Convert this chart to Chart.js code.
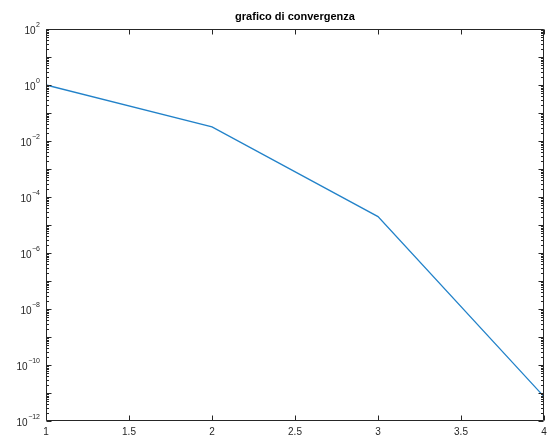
<!DOCTYPE html>
<html>
<head>
<meta charset="utf-8">
<script src="https://cdn.jsdelivr.net/npm/chart.js@4/dist/chart.umd.min.js"></script>
<style>
  html, body { margin: 0; padding: 0; background: #ffffff; }
  #wrap { width: 548px; height: 440px; }
</style>
</head>
<body>
<div id="wrap"><canvas id="c" width="548" height="440"></canvas></div>
<script>
// Iteration number and error at each step
const iterations = [1, 2, 3, 4];
const errors = [1.0, 0.032, 2.0e-5, 7.4e-12];

// Axis ticks
const xTicks = [1, 1.5, 2, 2.5, 3, 3.5, 4];
const yExponents = [-12, -11, -10, -9, -8, -7, -6, -5, -4, -3, -2, -1, 0, 1, 2];
const yLabelStep = 2;

const titleText = 'grafico di convergenza';
const fontFamily = '"Liberation Sans", Arial, Helvetica, sans-serif';
const axisColor = '#262626';

// decade ticks plus the 2..9 minor ticks in between
function buildLogTicks() {
  const out = [];
  for (let i = 0; i < yExponents.length; i++) {
    const e = yExponents[i];
    out.push({ value: Math.pow(10, e), major: true, exp: e });
    if (i < yExponents.length - 1) {
      for (let m = 2; m <= 9; m++) out.push({ value: m * Math.pow(10, e), major: false });
    }
  }
  return out;
}

function isLabelled(t) {
  return t.major && ((t.exp % yLabelStep) + yLabelStep) % yLabelStep === 0;
}

// inward tick marks on all four sides, the box outline,
// and the y labels written as 10 with a raised exponent
const boxTicks = {
  id: 'boxTicks',
  afterDraw(chart) {
    const { ctx, chartArea: a, scales } = chart;
    ctx.save();
    ctx.strokeStyle = axisColor;
    ctx.lineWidth = 1;
    ctx.beginPath();
    const L = Math.round(a.left) + 0.5, R = Math.round(a.right) - 0.5;
    const T = Math.round(a.top) + 0.5, B = Math.round(a.bottom) - 0.5;
    ctx.rect(L, T, R - L, B - T);
    for (const v of xTicks) {
      const px = Math.round(scales.x.getPixelForValue(v)) + 0.5;
      ctx.moveTo(px, B); ctx.lineTo(px, B - 5);
      ctx.moveTo(px, T); ctx.lineTo(px, T + 5);
    }
    for (const t of scales.y.ticks) {
      const py = Math.round(scales.y.getPixelForValue(t.value)) + 0.5;
      const len = t.major ? 5 : 2.5;
      ctx.moveTo(L, py); ctx.lineTo(L + len, py);
      ctx.moveTo(R, py); ctx.lineTo(R - len, py);
    }
    ctx.stroke();

    ctx.fillStyle = axisColor;
    ctx.textBaseline = 'alphabetic';
    const rightEdge = a.left - 6;
    for (const t of scales.y.ticks) {
      if (!isLabelled(t)) continue;
      const py = scales.y.getPixelForValue(t.value);
      const expText = String(t.exp).replace('-', '\u2212');
      ctx.font = '7px ' + fontFamily;
      const ew = ctx.measureText(expText).width;
      ctx.textAlign = 'left';
      ctx.fillText(expText, rightEdge - ew, py - 2);
      ctx.font = '10px ' + fontFamily;
      ctx.textAlign = 'right';
      ctx.fillText('10', rightEdge - ew - 0.5, py + 4.5);
    }
    ctx.restore();
  }
};

new Chart(document.getElementById('c'), {
  type: 'line',
  data: {
    datasets: [{
      label: 'errore',
      data: iterations.map((x, i) => ({ x: x, y: errors[i] })),
      borderColor: '#2282c9',
      borderWidth: 1.3,
      pointRadius: 0,
      tension: 0,
      fill: false
    }]
  },
  options: {
    responsive: false,
    animation: false,
    devicePixelRatio: 1,
    layout: { padding: { left: 0, right: 0, top: 0, bottom: 0 } },
    plugins: {
      legend: { display: false },
      tooltip: { enabled: false },
      title: {
        display: true,
        text: titleText,
        fullSize: false,
        color: '#000000',
        font: { family: fontFamily, size: 11, weight: 'bold', lineHeight: 1.2 },
        padding: { top: 10, bottom: 5.8 }
      }
    },
    scales: {
      x: {
        type: 'linear',
        min: 1,
        max: 4,
        grid: { display: false, drawTicks: false },
        border: { display: false },
        afterBuildTicks: (s) => { s.ticks = xTicks.map(v => ({ value: v })); },
        afterFit: (s) => { s.height = 19; s.paddingRight = 4; },
        ticks: {
          autoSkip: false,
          maxRotation: 0,
          padding: 5,
          color: axisColor,
          font: { family: fontFamily, size: 10 },
          callback: (v) => String(v)
        }
      },
      y: {
        type: 'logarithmic',
        min: 1e-12,
        max: 1e2,
        grid: { display: false, drawTicks: false },
        border: { display: false },
        afterBuildTicks: (s) => { s.ticks = buildLogTicks(); },
        afterFit: (s) => { s.width = 46; },
        ticks: {
          display: false
        }
      }
    }
  },
  plugins: [boxTicks]
});
</script>
</body>
</html>
